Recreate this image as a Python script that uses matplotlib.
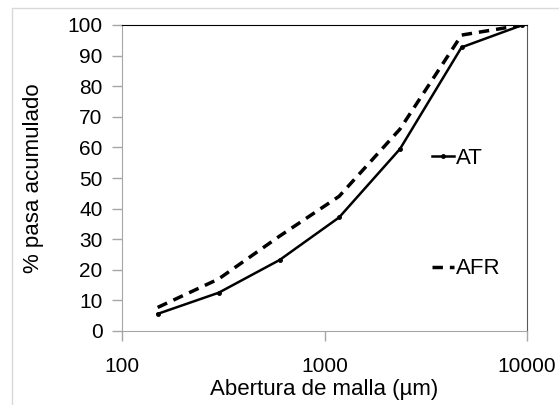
import matplotlib
matplotlib.use("Agg")
import matplotlib.pyplot as plt
from matplotlib.lines import Line2D

plt.rcParams['font.family'] = ['Liberation Sans', 'DejaVu Sans']

# datos (abertura en um, % pasa acumulado)
abertura = [150, 300, 600, 1180, 2360, 4750, 9500]
pasa_at = [5.6, 12.5, 23.2, 37.1, 59.5, 92.7, 100]
pasa_afr = [7.7, 17.0, 31.0, 44.0, 66.0, 96.7, 100]

fig = plt.figure(figsize=(5.59, 4.05), dpi=100)
ax = fig.add_axes([122/559, 1 - 331/405, (527-122)/559, (331-25)/405])

# borde del area del grafico (solo se ve arriba y a la izquierda)
fig.lines.append(Line2D([12/559, 12/559, 1], [0, 1 - 8/405, 1 - 8/405],
                        transform=fig.transFigure, color='#d9d9d9', linewidth=1))

l1, = ax.plot(abertura, pasa_at, '-', color='black', linewidth=1.8,
              marker='o', markersize=2.5)
l2, = ax.plot(abertura, pasa_afr, '--', color='black', linewidth=2.5,
              dashes=(3, 2))

ax.set_xscale('log')
ax.set_xlim(100, 10000)
ax.set_ylim(0, 100)
ax.set_yticks(range(0, 101, 10))
ax.set_xticks([100, 1000, 10000])
ax.set_xticklabels(['100', '1000', '10000'])
ax.minorticks_off()

ax.spines['left'].set_color('#a6a6a6')
ax.spines['bottom'].set_color('#a6a6a6')
ax.spines['top'].set_color('black')
ax.spines['right'].set_color('#595959')
ax.tick_params(axis='both', colors='#a6a6a6', labelcolor='black', labelsize=15,
               length=7, width=1)
ax.tick_params(axis='y', pad=7)
ax.tick_params(axis='x', pad=12)

ax.set_ylabel('% pasa acumulado', fontsize=16, labelpad=17)
ax.set_xlabel('Abertura de malla (µm)', fontsize=16, labelpad=2)

leg1 = ax.legend([l1], ['AT'], loc='center left', bbox_to_anchor=(0.765, 0.565),
                 frameon=False, fontsize=16, handlelength=1.0, handletextpad=0.1,
                 borderpad=0, borderaxespad=0)
ax.add_artist(leg1)
ax.legend([l2], ['AFR'], loc='center left', bbox_to_anchor=(0.765, 0.203),
          frameon=False, fontsize=16, handlelength=1.0, handletextpad=0.1,
          borderpad=0, borderaxespad=0)

fig.savefig('out.png', dpi=100)
